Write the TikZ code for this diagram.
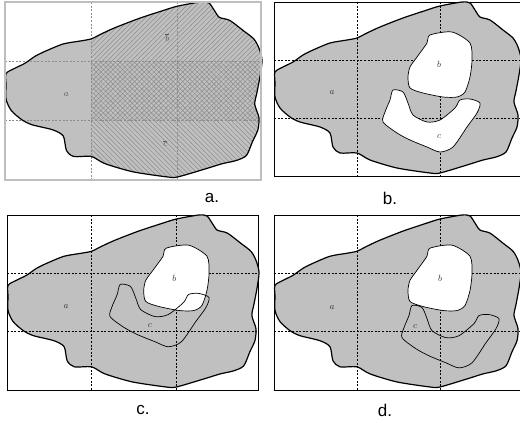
\documentclass[tikz,border=0pt]{standalone}
\usepackage{fontspec}
\newfontfamily\capfont{Liberation Sans}
\usetikzlibrary{patterns.meta}
\definecolor{regiongray}{HTML}{C0C0C0}
\definecolor{framegray}{HTML}{BEBEBE}
\definecolor{hatchgray}{HTML}{8C8C8C}
\tikzset{
  blobline/.style={line width=1.2pt, line join=round},
  holeline/.style={line width=0.7pt, line join=round},
  gridline/.style={dash pattern=on 2pt off 1.6pt, line width=0.6pt},
  framebox/.style={line width=0.7pt},
  setlabel/.style={font=\fontsize{9.5}{10}\selectfont, inner sep=0pt, text=black!80},
  caption/.style={font=\capfont\fontsize{17}{20}\selectfont, inner sep=0pt},
  hatch/.style={pattern={Lines[angle=#1, distance=3.4pt, line width=0.5pt]},
    pattern color=hatchgray}
}
\newcommand{\shapeblob}[1]{%
  \path[#1] plot[smooth cycle, tension=0.45] coordinates {
    (1,70) (9,65) (19,60) (29,53) (39,48) (56,41) (73,38) (83,36) (93,31)
    (106,25) (129,16) (153,8) (166,4) (188,0) (196,1) (201,8) (206,15)
    (216,18) (229,28) (239,36) (244,45) (247,57) (245,73) (242,89) (240,100)
    (244,113) (243,125) (238,136) (232,150) (222,155) (209,158) (193,163)
    (166,171) (156,171) (123,166) (96,158) (83,151) (66,151) (59,145)
    (56,131) (46,125) (26,120) (16,115) (6,106) (1,95) (1,81)};
}
\newcommand{\shapeb}[1]{%
  \path[#1] plot[smooth cycle, tension=0.45] coordinates {
    (156,33) (178,30) (196,41) (198,58) (196,75) (191,90) (183,95) (169,95)
    (149,91) (136,86) (134,75) (136,65) (143,55) (153,41)};
}
\newcommand{\shapec}[1]{%
  \path[#1] plot[smooth cycle, tension=0.45] coordinates {
    (119,88) (129,90) (134,101) (139,113) (153,120) (166,118) (181,106)
    (186,98) (196,97) (206,101) (203,111) (193,125) (179,145) (166,150)
    (153,145) (136,138) (123,131) (109,120) (111,110) (116,98)};
}
\newcommand{\gridlines}[1]{%
  \foreach \gx in {83,166} \draw[gridline,#1] (\gx,0) -- (\gx,174);
  \foreach \gy in {58,116} \draw[gridline,#1] (0,\gy) -- (246,\gy);
}

\begin{document}
\begin{tikzpicture}[x=1pt,y=-1pt]
  \useasboundingbox (0,0) rectangle (520,423);

  % a.
  \begin{scope}[shift={(5,2)}, xscale=1.0407, yscale=1.023]
    \shapeblob{fill=regiongray}
    \begin{scope}
      \shapeblob{clip}
      \fill[hatch=45] (83,0) rectangle (250,116);
      \fill[hatch=-45] (83,58) rectangle (250,176);
    \end{scope}
    \gridlines{draw=black!45}
    \shapeblob{draw, blobline}
    \draw[framebox, draw=framegray, line width=1.2pt] (0,0) rectangle (246,174);
    \node[setlabel, text=black!65] (a-a) at (59,90) {$a$};
    \node[setlabel, text=black!65] (a-b) at (156,35) {$\overline{b}$};
    \node[setlabel, text=black!65] (a-c) at (154,138) {$\overline{c}$};
  \end{scope}

  % b.
  \begin{scope}[shift={(274,2)}]
    \draw[framebox] (0,0) rectangle (246,174);
    \shapeblob{fill=regiongray}
    \gridlines{draw=black}
    \shapeb{fill=white, draw, holeline}
    \shapec{fill=white, draw, holeline}
    \shapeblob{draw, blobline}
    \node[setlabel] (b-a) at (58,91) {$a$};
    \node[setlabel] (b-b) at (165,62) {$b$};
    \node[setlabel] (b-c) at (165,135) {$c$};
  \end{scope}

  % c.
  \begin{scope}[shift={(7,215)}, xscale=1.0203, yscale=1.0057]
    \draw[framebox] (0,0) rectangle (246,174);
    \shapeblob{fill=regiongray}
    \gridlines{draw=black}
    \shapeb{fill=white, draw, holeline}
    \shapec{draw, holeline, shift={(-8,-19)}}
    \shapeblob{draw, blobline}
    \node[setlabel] (c-a) at (58,91) {$a$};
    \node[setlabel] (c-b) at (164,63) {$b$};
    \node[setlabel] (c-c) at (140,110) {$c$};
  \end{scope}

  % d.
  \begin{scope}[shift={(274,215)}, yscale=1.0057]
    \draw[framebox] (0,0) rectangle (246,174);
    \shapeblob{fill=regiongray}
    \gridlines{draw=black}
    \shapec{draw, holeline, shift={(19,2)}}
    \shapeb{fill=white, draw, holeline}
    \shapeblob{draw, blobline}
    \node[setlabel] (d-a) at (58,92) {$a$};
    \node[setlabel] (d-b) at (166,63) {$b$};
    \node[setlabel] (d-c) at (141,111) {$c$};
  \end{scope}

  \node[caption] (cap-a) at (212,198) {a.};
  \node[caption] (cap-b) at (390,198) {b.};
  \node[caption] (cap-c) at (143,410) {c.};
  \node[caption] (cap-d) at (385,410) {d.};
\end{tikzpicture}
\end{document}
